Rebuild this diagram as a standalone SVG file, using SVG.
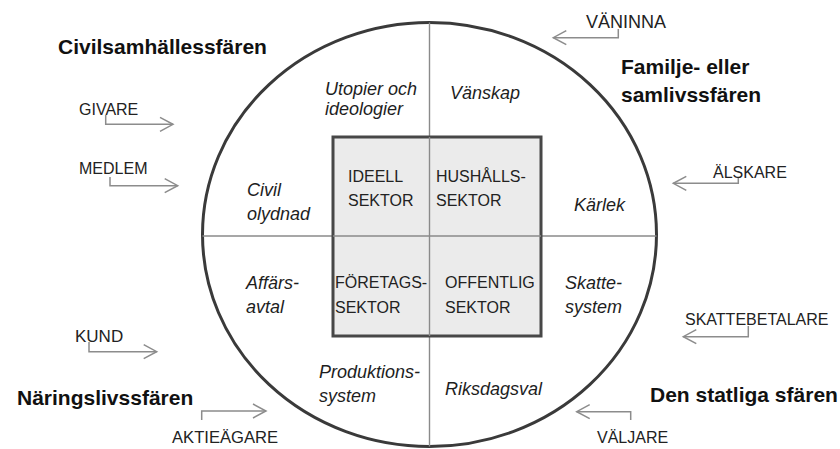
<svg xmlns="http://www.w3.org/2000/svg" width="840" height="449" viewBox="0 0 840 449">
  <style>
    text { font-family: "Liberation Sans", Arial, sans-serif; fill: #1e1e1e; }
    .sphere { font-size: 21px; font-weight: bold; fill: #111; }
    .role { font-size: 16px; fill: #222; }
    .field { font-size: 18px; font-style: italic; fill: #1e1e1e; }
    .sector { font-size: 16px; fill: #222; }
    .ring { fill: #ffffff; stroke: #3a3a3a; stroke-width: 3; }
    .axis { stroke: #8a8a8a; stroke-width: 1.4; fill: none; }
    .core { fill: #ebebeb; stroke: #474747; stroke-width: 3; }
    .link { fill: none; stroke: #8c8c8c; stroke-width: 1.5; }
  </style>
  <defs>
    <marker id="chevron" viewBox="-15 -9 17 18" markerWidth="17" markerHeight="18" refX="0" refY="0" orient="auto" markerUnits="userSpaceOnUse">
      <path d="M-13,-7 L0,0 L-13,7" fill="none" stroke="#8c8c8c" stroke-width="1.5"/>
    </marker>
  </defs>

  <rect width="840" height="449" fill="#ffffff"/>

  <!-- outer society circle with quadrant axes -->
  <g id="society">
    <ellipse class="ring" cx="429.5" cy="234.5" rx="227" ry="212"/>
    <line class="axis" x1="429.5" y1="22.5" x2="429.5" y2="446.5"/>
    <line class="axis" x1="202.5" y1="236" x2="656.5" y2="236"/>
  </g>

  <!-- inner sector square -->
  <g id="sectors">
    <rect class="core" x="333" y="137" width="208" height="199"/>
    <line class="axis" x1="429.5" y1="137" x2="429.5" y2="336"/>
    <line class="axis" x1="333" y1="236" x2="541" y2="236"/>
  </g>

  <g id="sector-ideell">
    <text class="sector" x="348" y="182">IDEELL</text>
    <text class="sector" x="348" y="206">SEKTOR</text>
  </g>
  <g id="sector-hushall">
    <text class="sector" x="436" y="182">HUSHÅLLS-</text>
    <text class="sector" x="436" y="206">SEKTOR</text>
  </g>
  <g id="sector-foretag">
    <text class="sector" x="335" y="288">FÖRETAGS-</text>
    <text class="sector" x="335" y="313">SEKTOR</text>
  </g>
  <g id="sector-offentlig">
    <text class="sector" x="445" y="288">OFFENTLIG</text>
    <text class="sector" x="445" y="313">SEKTOR</text>
  </g>

  <!-- institutions between the square and the circle -->
  <g id="field-utopier">
    <text class="field" x="325" y="95">Utopier och</text>
    <text class="field" x="325" y="115">ideologier</text>
  </g>
  <g id="field-vanskap"><text class="field" x="450" y="99">Vänskap</text></g>
  <g id="field-civil">
    <text class="field" x="247" y="196">Civil</text>
    <text class="field" x="247" y="220">olydnad</text>
  </g>
  <g id="field-karlek"><text class="field" x="574" y="211">Kärlek</text></g>
  <g id="field-affars">
    <text class="field" x="246" y="289">Affärs-</text>
    <text class="field" x="246" y="313">avtal</text>
  </g>
  <g id="field-skatte">
    <text class="field" x="565" y="289">Skatte-</text>
    <text class="field" x="565" y="313">system</text>
  </g>
  <g id="field-produktion">
    <text class="field" x="319" y="378">Produktions-</text>
    <text class="field" x="319" y="402">system</text>
  </g>
  <g id="field-riksdagsval"><text class="field" x="445" y="395">Riksdagsval</text></g>

  <!-- sphere names -->
  <g id="sphere-civil"><text class="sphere" x="58" y="54">Civilsamhällessfären</text></g>
  <g id="sphere-familj">
    <text class="sphere" x="621" y="74">Familje- eller</text>
    <text class="sphere" x="621" y="102">samlivssfären</text>
  </g>
  <g id="sphere-naring"><text class="sphere" x="17" y="405">Näringslivssfären</text></g>
  <g id="sphere-stat"><text class="sphere" x="650" y="402">Den statliga sfären</text></g>

  <!-- roles -->
  <g id="role-givare"><text class="role" x="79" y="115">GIVARE</text></g>
  <g id="role-medlem"><text class="role" x="79" y="174">MEDLEM</text></g>
  <g id="role-kund"><text class="role" x="75" y="342" style="font-size:17px">KUND</text></g>
  <g id="role-aktieagare"><text class="role" x="172" y="443" style="font-size:16.6px">AKTIEÄGARE</text></g>
  <g id="role-vaninna"><text class="role" x="586" y="28" style="font-size:18px">VÄNINNA</text></g>
  <g id="role-alskare"><text class="role" x="713" y="178">ÄLSKARE</text></g>
  <g id="role-skattebetalare"><text class="role" x="685" y="325">SKATTEBETALARE</text></g>
  <g id="role-valjare"><text class="role" x="597" y="443">VÄLJARE</text></g>

  <!-- role arrows -->
  <g id="connectors">
    <path class="link" marker-end="url(#chevron)" d="M105.7,115 V124.3 H173"/>
    <path class="link" marker-end="url(#chevron)" d="M110,177 V185.7 H177.7"/>
    <path class="link" marker-end="url(#chevron)" d="M89,342 V351.7 H156.7"/>
    <path class="link" marker-end="url(#chevron)" d="M201.7,420 V411 H266"/>
    <path class="link" marker-end="url(#chevron)" d="M618.3,29 V37.7 H553.3"/>
    <path class="link" marker-end="url(#chevron)" d="M738.3,178 V183.3 H673.3"/>
    <path class="link" marker-end="url(#chevron)" d="M748.3,326 V336.7 H683.3"/>
    <path class="link" marker-end="url(#chevron)" d="M630.7,420 V411.7 H576.7"/>
  </g>
</svg>
